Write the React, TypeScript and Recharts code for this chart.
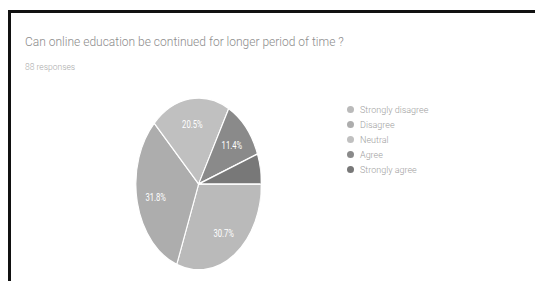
import { PieChart, Pie, Cell } from 'recharts';

const categories = ['Strongly disagree', 'Disagree', 'Neutral', 'Agree', 'Strongly agree'];
const responses = [27, 28, 18, 10, 5];
const COLORS = ['#bababa', '#adadad', '#c0c0c0', '#8a8a8a', '#787878'];

const title = 'Can online education be continued for longer period of time ?';
const subtitle = '88 responses';

const RADIAN = Math.PI / 180;

// etiqueta de porcentaje dentro de cada porción
const renderLabel = (props: any) => {
  const { cx, cy, midAngle, outerRadius, percent } = props;
  if (percent < 0.08) return null;
  const r = outerRadius * 0.7;
  const x = cx + r * Math.cos(-midAngle * RADIAN);
  const y = cy + r * Math.sin(-midAngle * RADIAN);
  return (
    <text x={x} y={y} fill="#ffffff" fontSize={10.5} fontFamily="Roboto" textAnchor="middle" dominantBaseline="central">
      {(percent * 100).toFixed(1) + '%'}
    </text>
  );
};

function App() {
  const chartData = categories.map((name, i) => ({ name, value: responses[i] }));

  return (
    <div style={{ position: 'fixed', left: 0, top: 0, width: 535, height: 281, background: '#fff', overflow: 'hidden', fontFamily: 'Roboto, sans-serif' }}>
      <div style={{ position: 'absolute', left: 8, top: 10, width: 600, height: 320, borderLeft: '3px solid #111', borderTop: '3px solid #111' }} />
      <div style={{ position: 'absolute', left: 25, top: 35, fontSize: 12, fontWeight: 300, color: '#8c8c8c', whiteSpace: 'nowrap' }}>{title}</div>
      <div style={{ position: 'absolute', left: 25, top: 62, fontSize: 8.5, fontWeight: 300, color: '#a8a8a8' }}>{subtitle}</div>

      <div style={{ position: 'absolute', left: 105, top: 89, width: 180, height: 180, transform: 'scaleX(0.73)', transformOrigin: '90px 90px' }}>
        <PieChart width={180} height={180}>
          <Pie
            data={chartData}
            dataKey="value"
            nameKey="name"
            cx={90}
            cy={90}
            outerRadius={86}
            startAngle={0}
            endAngle={-360}
            stroke="#ffffff"
            strokeWidth={1.5}
            label={renderLabel}
            labelLine={false}
            isAnimationActive={false}
          >
            {chartData.map((_entry, index) => (
              <Cell key={`cell-${index}`} fill={COLORS[index % COLORS.length]} />
            ))}
          </Pie>
        </PieChart>
      </div>

      <div style={{ position: 'absolute', left: 347, top: 102 }}>
        {categories.map((name, i) => (
          <div key={name} style={{ display: 'flex', alignItems: 'center', height: 15 }}>
            <span style={{ width: 7, height: 7, borderRadius: '50%', background: COLORS[i], marginRight: 6 }} />
            <span style={{ fontSize: 9, fontWeight: 300, color: '#a0a0a0' }}>{name}</span>
          </div>
        ))}
      </div>
    </div>
  );
}

export default App;
